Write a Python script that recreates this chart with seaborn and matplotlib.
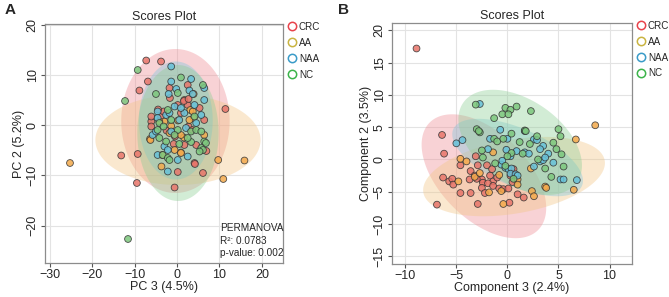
import numpy as np
import pandas as pd
import matplotlib
matplotlib.use("Agg")
import matplotlib.pyplot as plt
import seaborn as sns
from matplotlib.lines import Line2D

sns.set_style("white")
plt.rcParams['font.family'] = ['Liberation Sans', 'DejaVu Sans']

groups = ["CRC", "AA", "NAA", "NC"]
point_colors = {"CRC": "#E8756A", "AA": "#F3A94B", "NAA": "#67C1D9", "NC": "#7DC77D"}
ell_colors = {"CRC": "#EE8A92", "AA": "#F2C583", "NAA": "#7CC6DE", "NC": "#8ACD93"}
legend_colors = ["#E8434B", "#C9B441", "#3A9BC8", "#3CB44A"]

# ---- panel A: PC3 vs PC2 ----
a_crc_x = [-7.3, -3.8, -6.9, -1.8, 2.5, 1.7, 2.5, 11.4, 0.15, -3.8, -6.1, 5.3, 6.4, -6.1, 4.5, 1.7, 4.1,
           0.15, 6.1, -9.5, -0.6, -9.3, -13.2, -8.9, 4.2, 6.9, -0.8, -0.5, 2.7, 1.6, 2.7, -1.7, -3.2,
           -6.1, 3.6, -4.5, 0.9, -2.5]
a_crc_y = [13.0, 12.8, 8.8, 7.5, 8.1, 5.1, 4.1, 3.3, 4.1, 1.8, 0.8, 3.5, 1.1, -0.2, -3.9, -3.9, -7.5,
           -9.3, -9.5, -11.5, -12.4, -5.7, -6.0, 7.0, -7.7, -5.1, -3.7, -2.2, -0.2, 4.9, 5.3, 5.5, 2.8,
           1.8, -0.9, 3.2, 2.5, -1.0]
a_aa_x = [-25.3, 15.9, 10.9, 9.7, -3.7, -3.5, -6.4, 0.9, 1.6, 3.9, 3.9, -1.4, 0.2, 3.1, -3.0, 3.7,
          2.9, 0.9, 6.4, -6.3, -1.8, -0.6, 0.9, -4.2]
a_aa_y = [-7.5, -7.0, -10.7, -6.9, -8.2, -5.9, -2.7, -5.4, -2.4, 6.3, 1.5, -0.1, 1.0, 3.1, 0.8, 2.8,
          1.1, -1.9, -1.9, -2.9, -1.5, -4.9, -5.5, 0.8]
a_naa_x = [-1.4, 3.3, -1.4, -0.2, -2.0, 2.9, 6.4, 3.7, 6.4, 4.1, -4.6, -0.6, -2.6, -1.8, -4.6, 1.7,
           5.7, -1.4, 2.1, -5.8, -3.0, -2.2, -4.6, 2.5, 0.15, -2.2, 0.9, 4.5, 0.5, -5.0]
a_naa_y = [11.8, 9.3, 8.8, 7.3, 6.3, 7.0, 7.5, 6.3, 5.1, 4.1, 2.8, 3.8, 2.1, 2.5, 1.5, 2.5,
           2.1, -1.2, -0.5, -1.9, -4.2, -4.9, -5.9, -6.2, -6.9, -9.2, 3.5, 0.5, 1.1, -1.2]
a_nc_x = [-9.3, -12.3, -11.6, 0.9, 6.1, -5.0, 0.15, -2.2, -1.4, -4.2, 4.1, -4.6, -3.2, 0.15, 3.3,
          4.5, 5.7, -4.2, -0.6, -2.6, 6.4, 6.8, 5.7, 3.3, -3.4, -2.2, 6.1, 5.3, 0.5, -1.8, 2.5]
a_nc_y = [11.1, 4.9, -22.7, 9.6, 8.1, 6.3, 6.5, 3.1, 1.1, 0.5, 1.8, -0.9, -0.2, -0.9, -1.2,
          -0.9, -1.2, -2.5, -1.9, -3.2, -3.2, -3.5, -4.5, -3.3, -5.9, -6.5, -4.9, -5.2, -3.7, -6.9, -2.5]

# ellipse parameters: centre x, centre y, sd x, sd y, correlation
a_ell_cx = [-0.4, 0.2, -0.3, 0.2]
a_ell_cy = [0.9, -2.9, 1.0, -1.5]
a_ell_sx = [12.8, 19.5, 8.7, 9.6]
a_ell_sy = [14.4, 9.0, 11.8, 13.6]
a_ell_r = [0.0, 0.0, 0.0, 0.0]

# ---- panel B: Component 3 vs Component 2 ----
b_crc_x = [-8.9, -6.4, -6.2, -3.1, -4.6, -3.6, -3.2, -2.5, -1.7, -1.4, -1.0, -6.3, -5.7, -5.4, -5.3,
           -3.7, -2.4, -1.9, -1.4, -0.8, -0.4, 0.1, -3.6, -2.5, -2.9, -6.9, 1.6, 1.0, 0.5, 0.3, -2.9,
           -2.0, -3.0, -2.2, 0.2, 0.5, -4.6, 0.6, -1.5]
b_crc_y = [17.2, 3.8, 0.9, 0.5, -0.9, -1.8, -2.5, -3.1, -2.5, -3.4, -2.8, -2.8, -3.4, -3.0, -3.9,
           -3.1, -3.6, -3.7, -4.1, -4.5, -4.6, -4.5, -5.2, -4.4, -6.9, -7.0, -5.9, -5.4, -3.5, -2.5, -0.9,
           -0.9, -3.0, -5.2, -6.7, -2.0, -5.2, -1.5, -1.5]
b_aa_x = [8.6, 6.7, 6.5, 3.7, 3.8, 2.4, 2.6, -0.4, -4.6, -4.0, -4.8, -3.2, -2.7, -1.8, -1.4, 2.3,
          1.0, 1.0, -0.8, -0.6]
b_aa_y = [5.3, 3.1, -4.7, -4.2, -4.4, -4.9, -5.7, -6.9, 0.1, -0.3, -3.4, -2.7, -2.1, -5.1, 1.1, -1.4,
          -3.1, -3.9, -2.4, -4.9]
b_naa_x = [-2.7, -0.7, -5.0, -4.4, 0.0, -1.9, -0.1, -0.6, -0.2, 0.1, 0.4, 3.5, 3.2, 4.0, 1.7, 2.1,
           0.9, 3.2, 3.5, 4.5, 2.6, 5.2, 5.5, 6.8, 2.6, 2.9, 0.3, 0.8, 1.0, -1.7, 1.7, -0.5, 3.7, 0.3]
b_naa_y = [8.6, 4.6, 2.5, 3.0, 3.2, 1.6, 1.5, -0.8, -1.3, -1.5, -1.4, 2.1, 1.6, 0.9, 1.1, 0.9,
           1.3, -0.3, -0.1, -0.5, -1.1, -3.1, -3.1, -3.2, 3.1, 3.0, -2.2, -2.3, -2.5, 3.2, 4.4, -0.2, 0.3, 0.5]
b_nc_x = [-3.1, -0.2, 0.3, -0.5, 0.1, -1.3, -3.0, -2.7, -2.8, -1.3, -1.0, -0.4, -2.5, -2.4, -1.2,
          0.9, 2.3, 5.0, 5.2, 1.7, 0.4, 2.9, 1.2, 4.5, 2.2, 4.8, 5.3, 0.4, 3.7, 5.5, 4.3, 1.8, 0.0,
          0.6, -0.2, 3.0, 1.5]
b_nc_y = [8.5, 8.0, 7.7, 7.0, 7.0, 6.4, 4.7, 4.2, 4.4, 3.2, 2.8, 3.2, 1.4, 0.3, -0.6,
          8.2, 7.5, 4.7, 3.6, 4.5, 4.0, 3.6, 2.7, 2.6, 2.4, 1.6, 0.8, 1.0, -1.4, -1.1, -2.7, 4.4, 0.5,
          -3.0, -1.0, 0.0, 0.9]

b_ell_cx = [-2.3, 0.65, 1.0, 1.25]
b_ell_cy = [-2.6, -2.65, 0.3, 2.65]
b_ell_sx = [6.1, 8.9, 6.4, 6.05]
b_ell_sy = [9.6, 6.15, 6.0, 8.15]
b_ell_r = [-0.51, 0.34, -0.6, -0.44]


def make_df(xs, ys):
    rows = []
    for g, x, y in zip(groups, xs, ys):
        rows.append(pd.DataFrame({"x": x, "y": y, "group": g}))
    return pd.concat(rows, ignore_index=True)


def draw_ellipses(ax, cx, cy, sx, sy, rr):
    t = np.linspace(0, 2 * np.pi, 300)
    for g, a, b, c, d, r in zip(groups, cx, cy, sx, sy, rr):
        ex = a + c * np.cos(t)
        ey = b + d * (r * np.cos(t) + np.sqrt(1 - r * r) * np.sin(t))
        ax.fill(ex, ey, color=ell_colors[g], alpha=0.38, lw=0, zorder=1)


def style_axes(ax, xlabel, ylabel):
    ax.set_title("Scores Plot", fontsize=9, pad=3)
    ax.set_xlabel(xlabel, fontsize=9, labelpad=0)
    ax.set_ylabel(ylabel, fontsize=9, labelpad=1)
    ax.grid(True, color="#e3e3e3", lw=0.8)
    ax.set_axisbelow(True)
    for s in ax.spines.values():
        s.set_color("#8c8c8c")
        s.set_linewidth(0.9)
    ax.tick_params(direction="out", length=3, width=0.8, color="#555555", labelsize=9, pad=1.5,
                   bottom=True, left=True)
    for lab in ax.get_yticklabels():
        lab.set_rotation(90)
        lab.set_va("center")
    handles = [Line2D([], [], marker="o", ls="", mfc="none", mec=c, mew=1.1, ms=6) for c in legend_colors]
    ax.legend(handles, groups, loc="upper left", bbox_to_anchor=(1.0, 1.03), frameon=False,
              fontsize=7.1, handletextpad=0.3, labelspacing=0.6, borderaxespad=0.1, handlelength=0.8)


fig = plt.figure(figsize=(6.69, 2.97), dpi=100)
axA = fig.add_axes([45 / 669, 1 - 263 / 297, 238 / 669, 239 / 297])
axB = fig.add_axes([392 / 669, 1 - 264 / 297, 240 / 669, 241 / 297])

dfA = make_df([a_crc_x, a_aa_x, a_naa_x, a_nc_x], [a_crc_y, a_aa_y, a_naa_y, a_nc_y])
dfB = make_df([b_crc_x, b_aa_x, b_naa_x, b_nc_x], [b_crc_y, b_aa_y, b_naa_y, b_nc_y])

draw_ellipses(axA, a_ell_cx, a_ell_cy, a_ell_sx, a_ell_sy, a_ell_r)
sns.scatterplot(data=dfA, x="x", y="y", hue="group", palette=point_colors, s=24, alpha=0.85,
                edgecolor="#333333", linewidth=0.6, legend=False, ax=axA, zorder=3)
axA.set_xlim(-31.2, 25.0)
axA.set_ylim(-27.5, 20.3)
axA.set_xticks([-30, -20, -10, 0, 10, 20])
axA.set_yticks([-20, -10, 0, 10, 20])
style_axes(axA, "PC 3 (4.5%)", "PC 2 (5.2%)")
axA.text(0.735, 0.02, "PERMANOVA\nR²: 0.0783\np-value: 0.002", transform=axA.transAxes,
         fontsize=7.2, va="bottom", ha="left", linespacing=1.3)

draw_ellipses(axB, b_ell_cx, b_ell_cy, b_ell_sx, b_ell_sy, b_ell_r)
sns.scatterplot(data=dfB, x="x", y="y", hue="group", palette=point_colors, s=24, alpha=0.85,
                edgecolor="#333333", linewidth=0.6, legend=False, ax=axB, zorder=3)
axB.set_xlim(-11.3, 12.2)
axB.set_ylim(-16.2, 21.15)
axB.set_xticks([-10, -5, 0, 5, 10])
axB.set_yticks([-15, -10, -5, 0, 5, 10, 15, 20])
style_axes(axB, "Component 3 (2.4%)", "Component 2 (3.5%)")

fig.text(5 / 669, 1 - 14 / 297, "A", fontsize=11, fontweight="bold")
fig.text(338 / 669, 1 - 14 / 297, "B", fontsize=11, fontweight="bold")

fig.savefig("out.png", dpi=100)
